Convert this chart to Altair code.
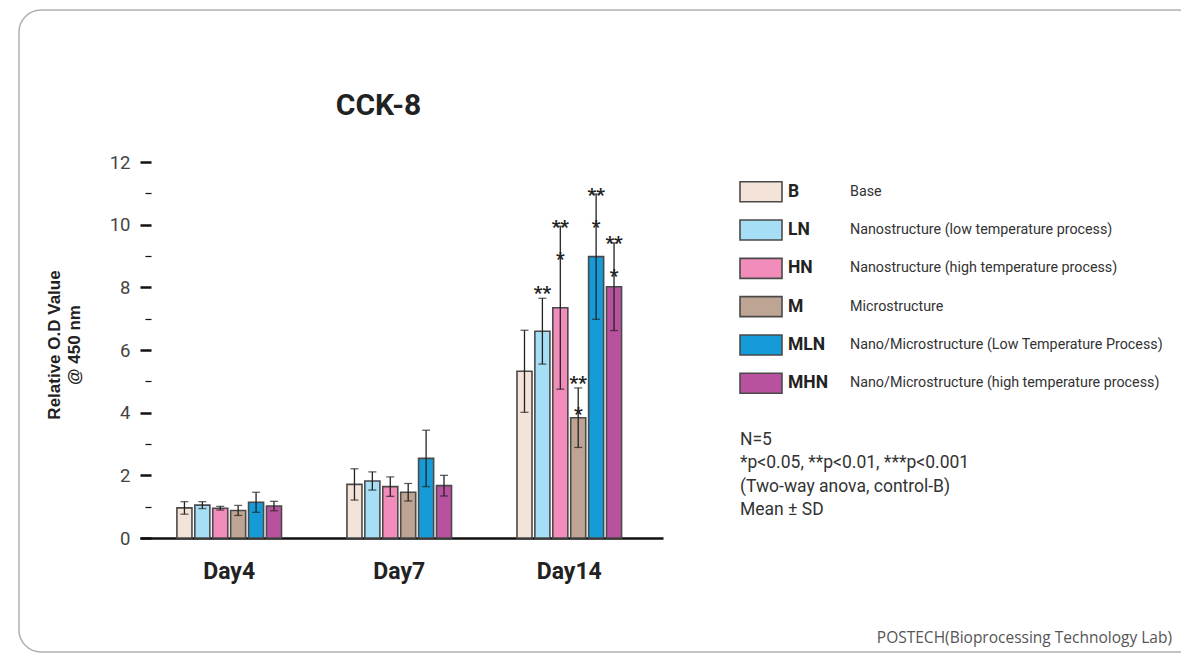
import altair as alt
import pandas as pd

# ---------------- data ----------------
days = ["Day4", "Day7", "Day14"]
groups = ["B", "LN", "HN", "M", "MLN", "MHN"]
descriptions = [
    "Base",
    "Nanostructure (low temperature process)",
    "Nanostructure (high temperature process)",
    "Microstructure",
    "Nano/Microstructure (Low Temperature Process)",
    "Nano/Microstructure (high temperature process)",
]
colors = ["#F3E3D9", "#A6DEF6", "#F28CBA", "#BEA492", "#159BD7", "#B8529F"]

mean_day4 = [0.96, 1.05, 0.95, 0.88, 1.14, 1.02]
mean_day7 = [1.71, 1.82, 1.64, 1.46, 2.54, 1.67]
mean_day14 = [5.32, 6.60, 7.35, 3.84, 8.98, 8.02]
sd_day4 = [0.20, 0.11, 0.06, 0.16, 0.32, 0.15]
sd_day7 = [0.50, 0.29, 0.31, 0.28, 0.90, 0.33]
sd_day14 = [1.31, 1.05, 2.60, 0.95, 2.00, 1.40]

# significance marks on Day14 (group, label, value position)
sig_groups = ["LN", "HN", "M", "MLN", "MHN", "HN", "M", "MLN", "MHN"]
sig_labels = ["**", "**", "**", "**", "**", "*", "*", "*", "*"]
sig_values = [7.96, 10.06, 5.08, 11.07, 9.55, 9.02, 4.08, 10.06, 8.50]

notes = ["N=5", "*p<0.05, **p<0.01, ***p<0.001", "(Two-way anova, control-B)", "Mean \u00b1 SD"]
title_text = "CCK-8"
y_title = ["Relative O.D Value", "@ 450 nm"]
footer = "POSTECH(Bioprocessing Technology Lab)"
major_ticks = [0, 2, 4, 6, 8, 10, 12]
minor_ticks = [1, 3, 5, 7, 9, 11]

# ---------------- tables ----------------
rows = []
for d, ms, ss in zip(days, [mean_day4, mean_day7, mean_day14], [sd_day4, sd_day7, sd_day14]):
    for g, m, s in zip(groups, ms, ss):
        rows.append({"day": d, "group": g, "value": m, "lo": m - s, "hi": m + s})
df = pd.DataFrame(rows)
df_sig = pd.DataFrame({"day": "Day14", "group": sig_groups, "label": sig_labels, "value": sig_values})
df_leg = pd.DataFrame({"group": groups, "desc": descriptions})
df_notes = pd.DataFrame({"note": notes})

ROBOTO = "Roboto, sans-serif"
NOVIEW = alt.ViewBackground(stroke="transparent", strokeOpacity=0, strokeWidth=0)

W, H = 523, 376
color_scale = alt.Scale(domain=groups, range=colors)
y_scale = alt.Scale(domain=[0, 12], nice=False, zero=True)
x_scale = alt.Scale(domain=days, paddingInner=0.368, paddingOuter=0.222, align=0.47)
xo_scale = alt.Scale(domain=groups, paddingInner=0.16, paddingOuter=0.08)

x_axis = alt.Axis(title=None, domainColor="#111111", domainWidth=2.5, ticks=False, tickSize=0,
                  labelAngle=0, labelFont=ROBOTO, labelFontSize=23, labelFontWeight="bold",
                  labelColor="#222222", labelBaseline="alphabetic", labelPadding=40)
y_axis = alt.Axis(values=major_ticks, title=None, domain=False, grid=False, tickSize=11,
                  tickWidth=2.5, tickColor="#111111", offset=-11, labelPadding=10,
                  labelFont=ROBOTO, labelFontSize=18.5, labelColor="#444444", format="d", orient="left")
y_minor_axis = alt.Axis(values=minor_ticks, title=None, domain=False, grid=False, labels=False,
                        tickSize=6, tickWidth=1.2, tickColor="#111111", offset=-11, orient="left")


def X():
    return alt.X("day:N", sort=days, scale=x_scale, axis=x_axis)


def XO():
    return alt.XOffset("group:N", sort=groups, scale=xo_scale)


base = alt.Chart(df)
bars = base.mark_bar(stroke="#4a4a4a", strokeWidth=1.6).encode(
    x=X(), xOffset=XO(),
    y=alt.Y("value:Q", scale=y_scale, axis=y_axis),
    fill=alt.Fill("group:N", scale=color_scale, legend=None),
)
err = base.mark_rule(color="#222222", strokeWidth=1.3).encode(
    x=X(), xOffset=XO(), y=alt.Y("lo:Q", scale=y_scale, axis=y_axis), y2="hi:Q"
)
cap_lo = base.mark_tick(size=8, thickness=1.3, color="#222222").encode(
    x=X(), xOffset=XO(), y=alt.Y("lo:Q", scale=y_scale, axis=y_axis)
)
cap_hi = base.mark_tick(size=8, thickness=1.3, color="#222222").encode(
    x=X(), xOffset=XO(), y=alt.Y("hi:Q", scale=y_scale, axis=y_axis)
)
stars = alt.Chart(df_sig).mark_text(font=ROBOTO, fontWeight="bold", fontSize=19, color="#222222",
                                    baseline="alphabetic", dy=10).encode(
    x=X(), xOffset=XO(), y=alt.Y("value:Q", scale=y_scale, axis=y_axis), text="label:N"
)
main = alt.layer(bars, err, cap_lo, cap_hi, stars).properties(view=NOVIEW)

minor = alt.Chart(df).mark_point(opacity=0).encode(
    y=alt.Y("value:Q", scale=y_scale, axis=y_minor_axis)
)

# legend (drawn from the category arrays)
leg_y = alt.Y("group:N", sort=groups, scale=alt.Scale(type="point", domain=groups, range=[29.7, 221.3], padding=0), axis=None)
leg_sw = alt.Chart(df_leg).mark_point(shape="M-1,-0.476H1V0.476H-1Z", size=1764, filled=True,
                                      stroke="#4a4a4a", strokeWidth=1.6, opacity=1).encode(
    x=alt.value(621), y=leg_y, fill=alt.Fill("group:N", scale=color_scale, legend=None)
)
leg_code = alt.Chart(df_leg).mark_text(font=ROBOTO, fontWeight="bold", fontSize=17.5, color="#222222",
                                       align="left", baseline="middle").encode(
    x=alt.value(648), y=leg_y, text="group:N"
)
leg_desc = alt.Chart(df_leg).mark_text(font=ROBOTO, fontSize=14.3, color="#333333",
                                       align="left", baseline="middle").encode(
    x=alt.value(710), y=leg_y, text="desc:N"
)
note_txt = alt.Chart(df_notes).mark_text(font=ROBOTO, fontSize=17.5, color="#333333",
                                         align="left", baseline="middle").encode(
    x=alt.value(600),
    y=alt.Y("note:N", sort=notes, scale=alt.Scale(type="point", domain=notes, range=[278, 348], padding=0), axis=None),
    text="note:N",
)

title = alt.Chart(pd.DataFrame({"t": [title_text]})).mark_text(
    font=ROBOTO, fontWeight="bold", fontSize=30, color="#222222", align="center", baseline="middle"
).encode(x=alt.value(238.5), y=alt.value(-56), text="t:N")

ytitle = alt.Chart(pd.DataFrame({"t": [0]})).mark_text(
    font="Liberation Sans, Arial, sans-serif", fontWeight="bold", fontSize=17, color="#222222",
    align="center", baseline="middle", angle=270, lineHeight=20
).encode(x=alt.value(-85), y=alt.value(183), text=alt.value(y_title))

foot = alt.Chart(pd.DataFrame({"t": [footer]})).mark_text(
    font="Open Sans, sans-serif", fontSize=15.5, color="#555555", align="right", baseline="middle"
).encode(x=alt.value(1032), y=alt.value(476), text="t:N")

frame = alt.Chart(pd.DataFrame({"t": [0]})).mark_rect(
    filled=False, stroke="#b0b0b0", strokeWidth=1.5, cornerRadius=22
).encode(x=alt.value(-121), x2=alt.value(1060), y=alt.value(-152), y2=alt.value(490))

chart = alt.layer(frame, main, minor, leg_sw, leg_code, leg_desc, note_txt, title, ytitle, foot).resolve_scale(
    x="independent", y="independent"
).properties(
    width=W, height=H,
    view=NOVIEW,
    autosize=alt.AutoSizeParams(type="none"),
    padding={"left": 132, "top": 154, "right": 518, "bottom": 115},
).configure_view(stroke="transparent", strokeOpacity=0, strokeWidth=0).configure(background="white")

chart.save("out.html", embed_options={"renderer": "svg", "actions": False})
